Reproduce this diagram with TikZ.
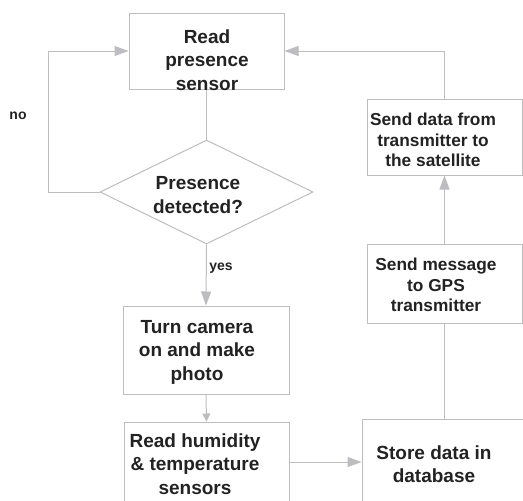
\documentclass[tikz,border=0pt]{standalone}
\usepackage{fontspec}
\setmainfont{Liberation Sans}
\usetikzlibrary{arrows.meta,shapes.geometric}
\definecolor{ln}{HTML}{BDBDC1}
\definecolor{tx}{HTML}{222222}
\begin{document}
\begin{tikzpicture}[x=1pt,y=-1pt,
  box/.style={draw=ln, line width=1pt, rectangle, inner sep=0pt},
  txt/.style={font=\bfseries\fontsize{19}{23.5}\selectfont, text=tx, align=center, inner sep=0pt},
  txs/.style={font=\bfseries\fontsize{17.3}{20.5}\selectfont, text=tx, align=center, inner sep=0pt},
  lbl/.style={font=\bfseries\fontsize{14}{16}\selectfont, text=tx, inner sep=0pt},
  con/.style={draw=ln, line width=1pt},
  arr/.style={con, -{Triangle[length=14pt,width=10pt]}},
  arrsm/.style={con, -{Triangle[length=8pt,width=8pt]}}]
\useasboundingbox (0,0) rectangle (523,501);
\clip (0,0) rectangle (523,501);
% boxes
\node[box, minimum width=155pt, minimum height=76pt] (read) at (206.5,51) {};
\node[txt] (readt) at (207,60) {Read\\presence\\sensor};
\node[draw=ln, line width=1pt, diamond, minimum width=213pt, minimum height=104pt, inner sep=0pt] (dia) at (206.5,192) {};
\node[txt] (diat) at (198,195) {Presence\\detected?};
\node[box, minimum width=166pt, minimum height=88pt] (turn) at (206,350) {};
\node[txt] (turnt) at (197,352) {Turn camera\\on and make\\photo};
\node[box, minimum width=165pt, minimum height=84pt] (hum) at (206.5,464) {};
\node[txt] (humt) at (195,464) {Read humidity\\\& temperature\\sensors};
\node[box, minimum width=178pt, minimum height=91pt] (store) at (451,464.5) {};
\node[txt] (storet) at (434,464) {Store data in\\database};
\node[box, minimum width=155pt, minimum height=79pt] (msg) at (444.5,283.5) {};
\node[txs] (msgt) at (436,285) {Send message\\to GPS\\transmitter};
\node[box, minimum width=155pt, minimum height=76pt] (send) at (444.5,137) {};
\node[txs] (sendt) at (433,140) {Send data from\\transmitter to\\the satellite};
% labels
\node[lbl] (no) at (18,116) {no};
\node[lbl] (yes) at (221,268) {yes};
% connectors
\coordinate (nl) at (48,192);
\draw[con] (read.south) -- (dia.north);
\draw[arr] (dia.west) -- (nl) |- (read.west);
\draw[arr] (dia.south) -- (turn.north);
\draw[arrsm] (turn.south) -- (hum.north);
\draw[arr] (hum.east |- 0,462) -- (store.west |- 0,462);
\draw[con] (msg.south |- store.north) -- (msg.south);
\draw[arr] (msg.north) -- (send.south);
\draw[arr] (send.north) |- (read.east);
\end{tikzpicture}
\end{document}
